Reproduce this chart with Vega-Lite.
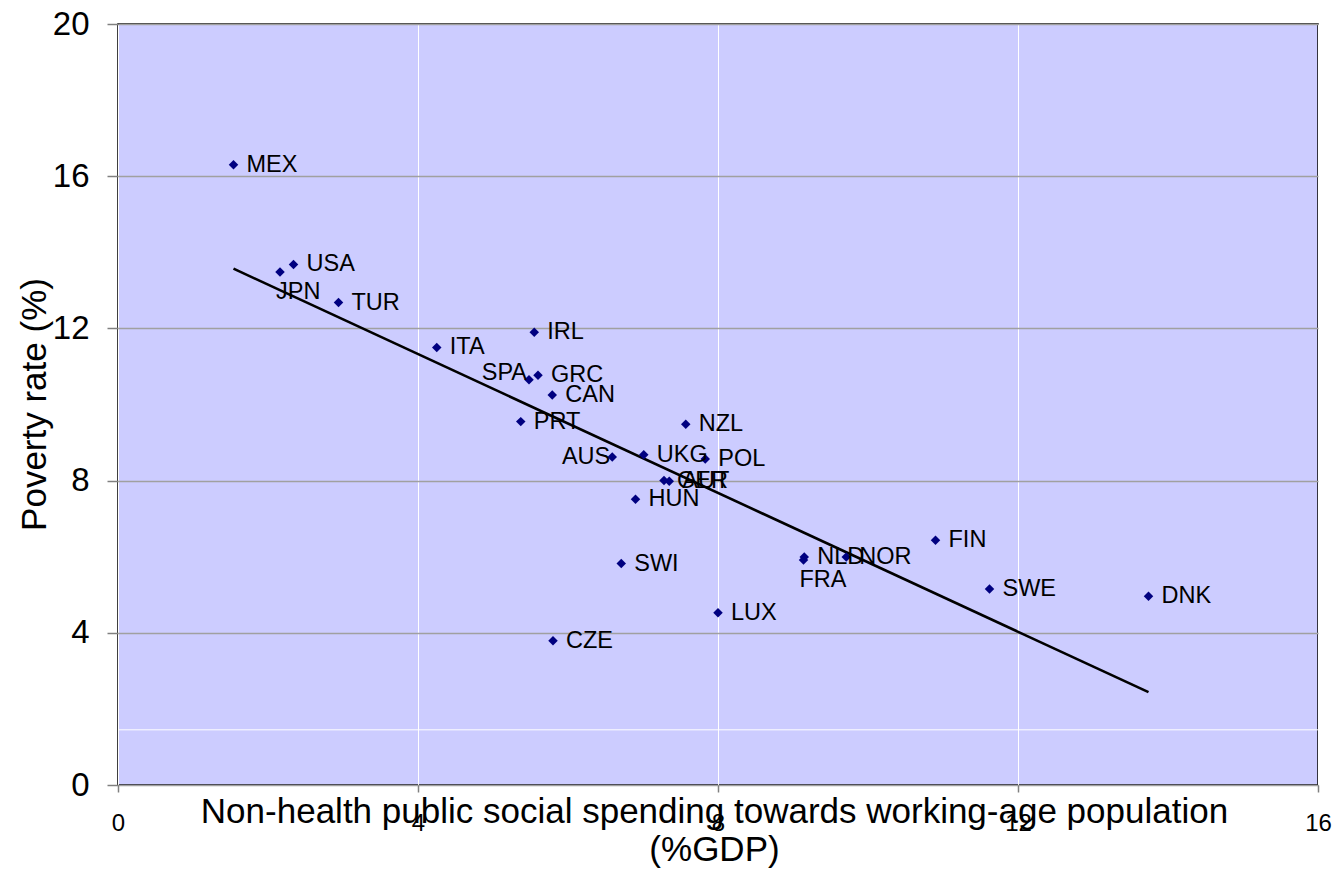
{
  "$schema": "https://vega.github.io/schema/vega-lite/v6.json",
  "width": 1200,
  "height": 761,
  "autosize": "none",
  "padding": {"left": 118, "top": 24, "right": 19, "bottom": 87},
  "background": "white",
  "config": {
    "view": {"fill": "#CCCCFF", "stroke": "#000000", "strokeWidth": 1.5},
    "font": "Liberation Sans"
  },
  "datasets": {
    "countries": [
      {"country": "MEX", "spending": 1.54, "poverty": 16.30},
      {"country": "JPN", "spending": 2.16, "poverty": 13.48},
      {"country": "USA", "spending": 2.34, "poverty": 13.68},
      {"country": "TUR", "spending": 2.94, "poverty": 12.68},
      {"country": "ITA", "spending": 4.25, "poverty": 11.50},
      {"country": "IRL", "spending": 5.55, "poverty": 11.90},
      {"country": "SPA", "spending": 5.48, "poverty": 10.65},
      {"country": "GRC", "spending": 5.60, "poverty": 10.77},
      {"country": "CAN", "spending": 5.79, "poverty": 10.25},
      {"country": "PRT", "spending": 5.37, "poverty": 9.55},
      {"country": "NZL", "spending": 7.57, "poverty": 9.48},
      {"country": "AUS", "spending": 6.59, "poverty": 8.62},
      {"country": "UKG", "spending": 7.01, "poverty": 8.68},
      {"country": "POL", "spending": 7.83, "poverty": 8.57},
      {"country": "GER", "spending": 7.28, "poverty": 8.00},
      {"country": "AUT", "spending": 7.35, "poverty": 7.98},
      {"country": "HUN", "spending": 6.90, "poverty": 7.51},
      {"country": "SWI", "spending": 6.71, "poverty": 5.82},
      {"country": "LUX", "spending": 8.00, "poverty": 4.53},
      {"country": "CZE", "spending": 5.80, "poverty": 3.79},
      {"country": "NLD", "spending": 9.15, "poverty": 5.99},
      {"country": "FRA", "spending": 9.14, "poverty": 5.91},
      {"country": "NOR", "spending": 9.71, "poverty": 5.99},
      {"country": "FIN", "spending": 10.90, "poverty": 6.43},
      {"country": "SWE", "spending": 11.62, "poverty": 5.15},
      {"country": "DNK", "spending": 13.74, "poverty": 4.96}
    ],
    "trend": [
      {"spending": 1.54, "poverty": 13.57},
      {"spending": 13.74, "poverty": 2.44}
    ],
    "extraline": [
      {"poverty": 1.45}
    ]
  },
  "layer": [
    {
      "data": {"name": "extraline"},
      "mark": {"type": "rule", "color": "#FFFFFF", "strokeWidth": 1},
      "encoding": {
        "y": {"field": "poverty", "type": "quantitative", "scale": {"domain": [0, 20], "nice": false}}
      }
    },
    {
      "data": {"name": "trend"},
      "mark": {"type": "line", "color": "#000000", "strokeWidth": 2.6},
      "encoding": {
        "x": {"field": "spending", "type": "quantitative", "scale": {"domain": [0, 16], "nice": false}},
        "y": {"field": "poverty", "type": "quantitative", "scale": {"domain": [0, 20], "nice": false}}
      }
    },
    {
      "data": {"name": "countries"},
      "mark": {"type": "point", "shape": "diamond", "filled": true, "color": "#000080", "size": 90, "opacity": 1},
      "encoding": {
        "x": {
          "field": "spending", "type": "quantitative",
          "scale": {"domain": [0, 16], "nice": false},
          "axis": {
            "values": [0, 4, 8, 12, 16], "format": "d", "labelFlush": false, "labelOverlap": false,
            "grid": true, "gridColor": "#FFFFFF", "gridWidth": 1, "gridOpacity": 1,
            "domain": false,
            "ticks": true, "tickSize": 7, "tickColor": "#808080", "tickWidth": 1.5,
            "labelFontSize": 24, "labelColor": "#000000", "labelPadding": 19, "labelBaseline": "top", "labelFont": "Liberation Sans",
            "title": ["Non-health public social spending towards working-age population", "(%GDP)"],
            "titleFontSize": 35, "titleFontWeight": "normal", "titleColor": "#000000", "titleFont": "Liberation Sans",
            "titleLineHeight": 38, "titleBaseline": "top", "titleAlign": "center", "titleX": 596, "titleY": 9
          }
        },
        "y": {
          "field": "poverty", "type": "quantitative",
          "scale": {"domain": [0, 20], "nice": false},
          "axis": {
            "values": [0, 4, 8, 12, 16, 20], "labelFlush": false, "labelOverlap": false,
            "grid": true, "gridColor": "#A0A0A0", "gridWidth": 1.5, "gridOpacity": 1,
            "domain": false,
            "ticks": true, "tickSize": 11, "tickColor": "#808080", "tickWidth": 1.5,
            "labelFontSize": 33, "labelColor": "#000000", "labelPadding": 18, "labelFont": "Liberation Sans",
            "title": "Poverty rate (%)",
            "titleFontSize": 35, "titleFontWeight": "normal", "titleColor": "#000000", "titleFont": "Liberation Sans",
            "titleAngle": 270, "titleBaseline": "alphabetic", "titleAlign": "center", "titleX": -73, "titleY": 380
          }
        }
      }
    },
    {
      "data": {"name": "countries"},
      "transform": [{"filter": "indexof(['SPA','AUS','JPN','FRA'], datum.country) < 0"}],
      "mark": {"type": "text", "align": "left", "baseline": "middle", "dx": 13, "fontSize": 23.5, "color": "#000000", "font": "Liberation Sans"},
      "encoding": {
        "x": {"field": "spending", "type": "quantitative"},
        "y": {"field": "poverty", "type": "quantitative"},
        "text": {"field": "country"}
      }
    },
    {
      "data": {"name": "countries"},
      "transform": [{"filter": "datum.country == 'SPA'"}],
      "mark": {"type": "text", "align": "right", "baseline": "middle", "dx": -2, "dy": -7, "fontSize": 23.5, "color": "#000000", "font": "Liberation Sans"},
      "encoding": {
        "x": {"field": "spending", "type": "quantitative"},
        "y": {"field": "poverty", "type": "quantitative"},
        "text": {"field": "country"}
      }
    },
    {
      "data": {"name": "countries"},
      "transform": [{"filter": "datum.country == 'AUS'"}],
      "mark": {"type": "text", "align": "right", "baseline": "middle", "dx": -2, "dy": 0, "fontSize": 23.5, "color": "#000000", "font": "Liberation Sans"},
      "encoding": {
        "x": {"field": "spending", "type": "quantitative"},
        "y": {"field": "poverty", "type": "quantitative"},
        "text": {"field": "country"}
      }
    },
    {
      "data": {"name": "countries"},
      "transform": [{"filter": "datum.country == 'JPN' || datum.country == 'FRA'"}],
      "mark": {"type": "text", "align": "left", "baseline": "middle", "dx": -4, "dy": 20, "fontSize": 23.5, "color": "#000000", "font": "Liberation Sans"},
      "encoding": {
        "x": {"field": "spending", "type": "quantitative"},
        "y": {"field": "poverty", "type": "quantitative"},
        "text": {"field": "country"}
      }
    }
  ]
}
